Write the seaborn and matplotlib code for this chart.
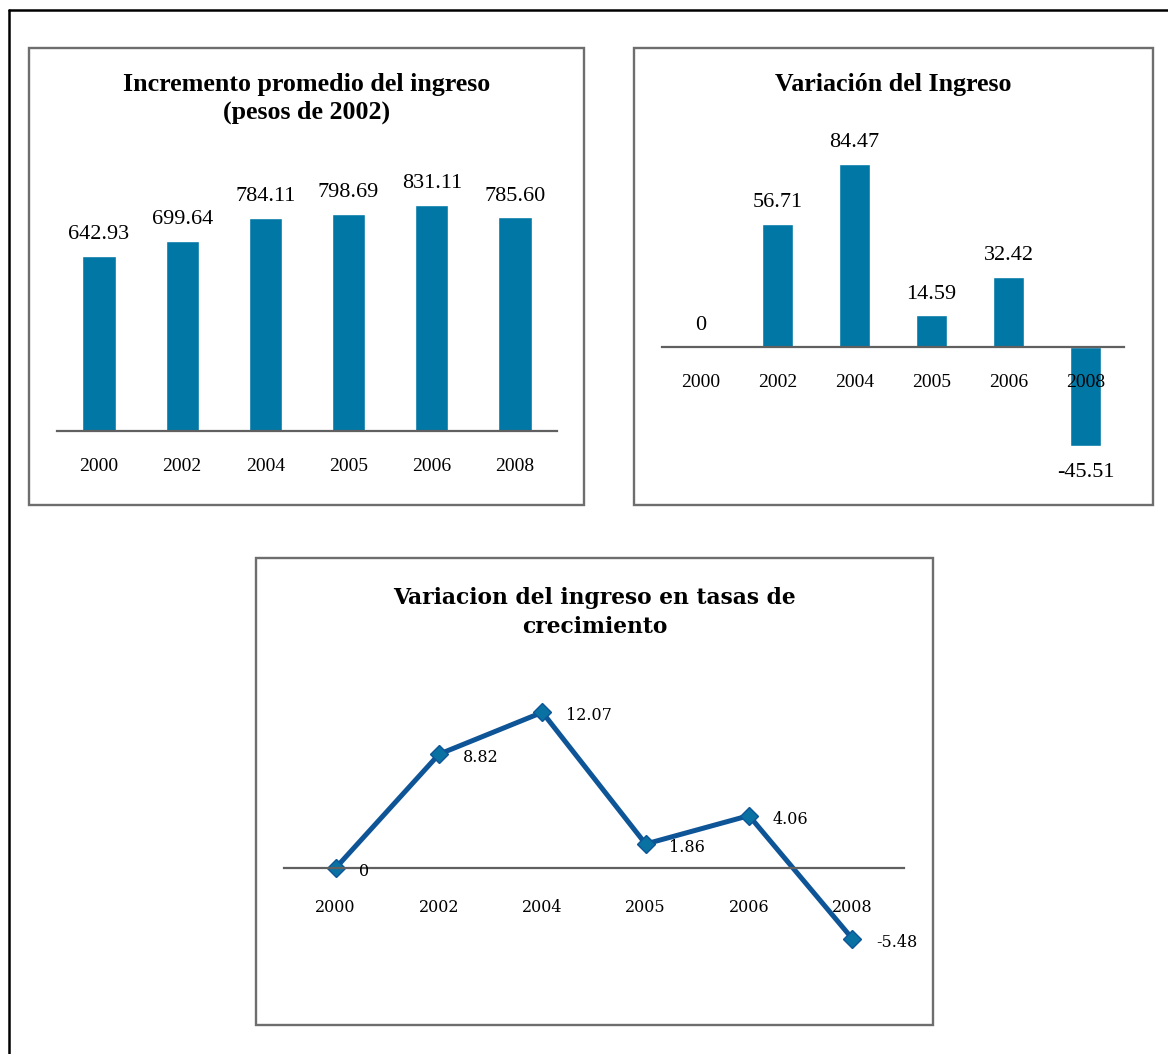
import matplotlib
matplotlib.use("Agg")
import matplotlib.pyplot as plt
import seaborn as sns
from matplotlib.patches import Rectangle
from matplotlib.lines import Line2D

# Data
years = ["2000", "2002", "2004", "2005", "2006", "2008"]
ingreso_promedio = [642.93, 699.64, 784.11, 798.69, 831.11, 785.60]
variacion_ingreso = [0, 56.71, 84.47, 14.59, 32.42, -45.51]
tasa_crecimiento = [0, 8.82, 12.07, 1.86, 4.06, -5.48]

titulo_1 = "Incremento promedio del ingreso\n(pesos de 2002)"
titulo_2 = "Variación del Ingreso"
titulo_3 = "Variacion del ingreso en tasas de\ncrecimiento"

W, H = 1168, 1054
BAR = "#0077A5"
LINE = "#0E5597"
MARK = "#0A72A3"
FRAME = "#6E6E6E"
AXIS = "#606060"
SERIF = ["Liberation Serif", "DejaVu Serif"]
SERIF2 = ["DejaVu Serif"]

sns.set_theme(style="white")
plt.rcParams["font.family"] = SERIF
plt.rcParams["text.color"] = "black"

fig = plt.figure(figsize=(W / 100, H / 100), dpi=100)
fig.patch.set_facecolor("white")


def px_axes(left, right, top, bottom):
    return fig.add_axes([left / W, 1 - bottom / H, (right - left) / W, (bottom - top) / H])


def box(l, t, r, b):
    fig.add_artist(Rectangle((l / W, 1 - b / H), (r - l) / W, (b - t) / H,
                             transform=fig.transFigure, fill=False,
                             edgecolor=FRAME, linewidth=1.7))


def fmt(v):
    return "0" if v == 0 else f"{v:.2f}"


def style_axis(ax, pad, family, size):
    for s in ["top", "left", "right"]:
        ax.spines[s].set_visible(False)
    ax.spines["bottom"].set_position(("data", 0))
    ax.spines["bottom"].set_color(AXIS)
    ax.spines["bottom"].set_linewidth(1.6)
    ax.set_axisbelow(False)
    ax.set_yticks([])
    ax.set_xlabel("")
    ax.set_ylabel("")
    ax.tick_params(axis="x", length=0, pad=pad, labelsize=size, labelcolor="black")
    for lbl in ax.get_xticklabels():
        lbl.set_family(family)
    ax.set_facecolor("none")
    ax.set_xlim(-0.5, len(years) - 0.5)


def value_labels(ax, values, size):
    bars = ax.containers[0]
    ax.bar_label(bars, labels=[fmt(v) if v >= 0 else "" for v in values],
                 padding=8.4, fontsize=size, family=SERIF, color="black")
    ax.bar_label(bars, labels=[fmt(v) if v < 0 else "" for v in values],
                 padding=12.5, fontsize=size, family=SERIF, color="black")


# Outer frame (top and left rules)
fig.add_artist(Line2D([9 / W, 1.0], [1 - 10 / H, 1 - 10 / H], color="black",
                      lw=1.8, transform=fig.transFigure))
fig.add_artist(Line2D([9 / W, 9 / W], [0, 1 - 10 / H], color="black",
                      lw=1.8, transform=fig.transFigure))

# Panel 1: average income
box(29, 48, 584, 505)
ax1 = px_axes(57.4, 556.6, 140, 431)
sns.barplot(x=years, y=ingreso_promedio, color=BAR, saturation=1, width=0.4, ax=ax1)
ax1.set_ylim(0, 291 / 0.272)
value_labels(ax1, ingreso_promedio, 16)
style_axis(ax1, 19.5, SERIF, 14)
fig.text(306.5 / W, 1 - 98.5 / H, titulo_1, ha="center", va="center",
         fontsize=18.7, fontweight="bold", linespacing=1.22, family=SERIF)

# Panel 2: income change
box(634, 48, 1153, 505)
ax2 = px_axes(662, 1124, 120, 490)
sns.barplot(x=years, y=variacion_ingreso, color=BAR, saturation=1, width=0.4, ax=ax2)
ax2.set_ylim(-(490 - 347) / 2.17, (347 - 120) / 2.17)
value_labels(ax2, variacion_ingreso, 16)
style_axis(ax2, 19.5, SERIF, 14)
fig.text(893.5 / W, 1 - 84 / H, titulo_2, ha="center", va="center",
         fontsize=18.7, fontweight="bold", family=SERIF)

# Panel 3: growth rates
box(256, 558, 933, 1025)
ax3 = px_axes(284, 904, 680, 990)
sns.pointplot(x=years, y=tasa_crecimiento, color=LINE, markers="D", errorbar=None,
              markersize=9.5, linewidth=3.6, ax=ax3)
ln = ax3.lines[0]
ln.set_markerfacecolor(MARK)
ln.set_markeredgecolor(LINE)
ln.set_markeredgewidth(1.0)
ax3.set_ylim(-(990 - 868) / 12.9, (868 - 680) / 12.9)
for i, v in enumerate(tasa_crecimiento):
    ax3.annotate(fmt(v), (i, v), xytext=(17, -2.5), textcoords="offset points",
                 ha="left", va="center", fontsize=11.5, family=SERIF2, color="black")
style_axis(ax3, 22.5, SERIF2, 11.5)
fig.text(594.5 / W, 1 - 612.5 / H, titulo_3, ha="center", va="center",
         fontsize=15.7, fontweight="bold", linespacing=1.4, family=SERIF2)

fig.savefig("out.png", dpi=100)
